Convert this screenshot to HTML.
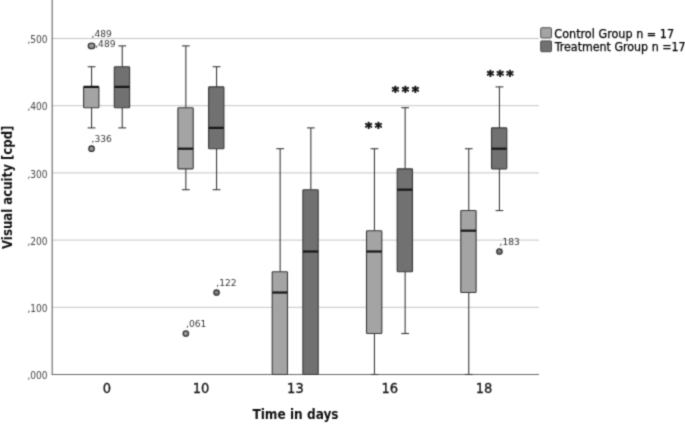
<!DOCTYPE html>
<html><head><meta charset="utf-8"><title>Visual acuity boxplot</title>
<style>html,body{margin:0;padding:0;background:#fff}body{width:685px;height:424px;overflow:hidden}</style></head>
<body>
<svg width="685" height="424" viewBox="0 0 685 424" style="display:block;font-family:'DejaVu Sans Condensed','DejaVu Sans','Liberation Sans',sans-serif">
<defs><filter id="soft" color-interpolation-filters="sRGB" filterUnits="userSpaceOnUse" x="-10" y="-10" width="705" height="444"><feConvolveMatrix order="3" kernelMatrix="0.0289 0.1122 0.0289 0.1122 0.4356 0.1122 0.0289 0.1122 0.0289" divisor="1" edgeMode="duplicate" preserveAlpha="true"/></filter></defs>
<rect width="685" height="424" fill="#fff"/>
<g filter="url(#soft)">
<rect x="-10" y="-10" width="705" height="444" fill="#fff"/>
<line x1="52" x2="539" y1="307.30" y2="307.30" stroke="#c6c6c6" stroke-width="1"/>
<line x1="52" x2="539" y1="240.10" y2="240.10" stroke="#c6c6c6" stroke-width="1"/>
<line x1="52" x2="539" y1="172.90" y2="172.90" stroke="#c6c6c6" stroke-width="1"/>
<line x1="52" x2="539" y1="105.70" y2="105.70" stroke="#c6c6c6" stroke-width="1"/>
<line x1="52" x2="539" y1="38.50" y2="38.50" stroke="#c6c6c6" stroke-width="1"/>
<line x1="52.2" x2="52.2" y1="-5" y2="375.1" stroke="#6c6c6c" stroke-width="1.15"/>
<line x1="51.8" x2="539" y1="374.5" y2="374.5" stroke="#6c6c6c" stroke-width="1.15"/>
<line x1="91.55" x2="91.55" y1="66.72" y2="86.88" stroke="#3a3a3a" stroke-width="1.1"/>
<line x1="87.65" x2="95.45" y1="66.72" y2="66.72" stroke="#3a3a3a" stroke-width="1.1"/>
<line x1="91.55" x2="91.55" y1="127.88" y2="107.72" stroke="#3a3a3a" stroke-width="1.1"/>
<line x1="87.65" x2="95.45" y1="127.88" y2="127.88" stroke="#3a3a3a" stroke-width="1.1"/>
<rect x="83.60" y="86.88" width="15.3" height="20.83" rx="0.8" fill="#a4a4a4" stroke="#383838" stroke-width="1.1"/>
<line x1="83.60" x2="98.90" y1="86.88" y2="86.88" stroke="#161616" stroke-width="2.2"/>
<ellipse cx="91.55" cy="45.89" rx="3.3" ry="2.75" fill="#9a9a9a" stroke="#333" stroke-width="1.3"/>
<circle cx="91.55" cy="148.71" r="2.7" fill="#9a9a9a" stroke="#333" stroke-width="1.3"/>
<line x1="122.25" x2="122.25" y1="45.89" y2="66.72" stroke="#3a3a3a" stroke-width="1.1"/>
<line x1="118.35" x2="126.15" y1="45.89" y2="45.89" stroke="#3a3a3a" stroke-width="1.1"/>
<line x1="122.25" x2="122.25" y1="127.88" y2="107.72" stroke="#3a3a3a" stroke-width="1.1"/>
<line x1="118.35" x2="126.15" y1="127.88" y2="127.88" stroke="#3a3a3a" stroke-width="1.1"/>
<rect x="114.30" y="66.72" width="15.3" height="40.99" rx="0.8" fill="#717171" stroke="#383838" stroke-width="1.1"/>
<line x1="114.30" x2="129.60" y1="86.88" y2="86.88" stroke="#161616" stroke-width="2.2"/>
<line x1="185.85" x2="185.85" y1="45.89" y2="107.72" stroke="#3a3a3a" stroke-width="1.1"/>
<line x1="181.95" x2="189.75" y1="45.89" y2="45.89" stroke="#3a3a3a" stroke-width="1.1"/>
<line x1="185.85" x2="185.85" y1="189.70" y2="168.87" stroke="#3a3a3a" stroke-width="1.1"/>
<line x1="181.95" x2="189.75" y1="189.70" y2="189.70" stroke="#3a3a3a" stroke-width="1.1"/>
<rect x="177.90" y="107.72" width="15.3" height="61.15" rx="0.8" fill="#a4a4a4" stroke="#383838" stroke-width="1.1"/>
<line x1="177.90" x2="193.20" y1="148.71" y2="148.71" stroke="#161616" stroke-width="2.2"/>
<circle cx="185.85" cy="333.51" r="2.7" fill="#9a9a9a" stroke="#333" stroke-width="1.3"/>
<line x1="216.55" x2="216.55" y1="66.72" y2="86.88" stroke="#3a3a3a" stroke-width="1.1"/>
<line x1="212.65" x2="220.45" y1="66.72" y2="66.72" stroke="#3a3a3a" stroke-width="1.1"/>
<line x1="216.55" x2="216.55" y1="189.70" y2="148.71" stroke="#3a3a3a" stroke-width="1.1"/>
<line x1="212.65" x2="220.45" y1="189.70" y2="189.70" stroke="#3a3a3a" stroke-width="1.1"/>
<rect x="208.60" y="86.88" width="15.3" height="61.82" rx="0.8" fill="#717171" stroke="#383838" stroke-width="1.1"/>
<line x1="208.60" x2="223.90" y1="127.88" y2="127.88" stroke="#161616" stroke-width="2.2"/>
<circle cx="216.55" cy="292.52" r="2.7" fill="#808080" stroke="#333" stroke-width="1.3"/>
<line x1="280.15" x2="280.15" y1="148.71" y2="271.68" stroke="#3a3a3a" stroke-width="1.1"/>
<line x1="276.25" x2="284.05" y1="148.71" y2="148.71" stroke="#3a3a3a" stroke-width="1.1"/>
<rect x="272.20" y="271.68" width="15.3" height="102.82" rx="0.8" fill="#a4a4a4" stroke="#383838" stroke-width="1.1"/>
<line x1="272.20" x2="287.50" y1="292.52" y2="292.52" stroke="#161616" stroke-width="2.2"/>
<line x1="310.85" x2="310.85" y1="127.88" y2="189.70" stroke="#3a3a3a" stroke-width="1.1"/>
<line x1="306.95" x2="314.75" y1="127.88" y2="127.88" stroke="#3a3a3a" stroke-width="1.1"/>
<rect x="302.90" y="189.70" width="15.3" height="184.80" rx="0.8" fill="#717171" stroke="#383838" stroke-width="1.1"/>
<line x1="302.90" x2="318.20" y1="251.52" y2="251.52" stroke="#161616" stroke-width="2.2"/>
<line x1="374.45" x2="374.45" y1="148.71" y2="230.69" stroke="#3a3a3a" stroke-width="1.1"/>
<line x1="370.55" x2="378.35" y1="148.71" y2="148.71" stroke="#3a3a3a" stroke-width="1.1"/>
<line x1="374.45" x2="374.45" y1="374.50" y2="333.51" stroke="#3a3a3a" stroke-width="1.1"/>
<line x1="370.55" x2="378.35" y1="374.50" y2="374.50" stroke="#3a3a3a" stroke-width="1.1"/>
<rect x="366.50" y="230.69" width="15.3" height="102.82" rx="0.8" fill="#a4a4a4" stroke="#383838" stroke-width="1.1"/>
<line x1="366.50" x2="381.80" y1="251.52" y2="251.52" stroke="#161616" stroke-width="2.2"/>
<line x1="405.15" x2="405.15" y1="107.72" y2="168.87" stroke="#3a3a3a" stroke-width="1.1"/>
<line x1="401.25" x2="409.05" y1="107.72" y2="107.72" stroke="#3a3a3a" stroke-width="1.1"/>
<line x1="405.15" x2="405.15" y1="333.51" y2="271.68" stroke="#3a3a3a" stroke-width="1.1"/>
<line x1="401.25" x2="409.05" y1="333.51" y2="333.51" stroke="#3a3a3a" stroke-width="1.1"/>
<rect x="397.20" y="168.87" width="15.3" height="102.82" rx="0.8" fill="#717171" stroke="#383838" stroke-width="1.1"/>
<line x1="397.20" x2="412.50" y1="189.70" y2="189.70" stroke="#161616" stroke-width="2.2"/>
<line x1="468.75" x2="468.75" y1="148.71" y2="210.53" stroke="#3a3a3a" stroke-width="1.1"/>
<line x1="464.85" x2="472.65" y1="148.71" y2="148.71" stroke="#3a3a3a" stroke-width="1.1"/>
<line x1="468.75" x2="468.75" y1="374.50" y2="292.52" stroke="#3a3a3a" stroke-width="1.1"/>
<line x1="464.85" x2="472.65" y1="374.50" y2="374.50" stroke="#3a3a3a" stroke-width="1.1"/>
<rect x="460.80" y="210.53" width="15.3" height="81.98" rx="0.8" fill="#a4a4a4" stroke="#383838" stroke-width="1.1"/>
<line x1="460.80" x2="476.10" y1="230.69" y2="230.69" stroke="#161616" stroke-width="2.2"/>
<line x1="499.45" x2="499.45" y1="86.88" y2="127.88" stroke="#3a3a3a" stroke-width="1.1"/>
<line x1="495.55" x2="503.35" y1="86.88" y2="86.88" stroke="#3a3a3a" stroke-width="1.1"/>
<line x1="499.45" x2="499.45" y1="210.53" y2="168.87" stroke="#3a3a3a" stroke-width="1.1"/>
<line x1="495.55" x2="503.35" y1="210.53" y2="210.53" stroke="#3a3a3a" stroke-width="1.1"/>
<rect x="491.50" y="127.88" width="15.3" height="40.99" rx="0.8" fill="#717171" stroke="#383838" stroke-width="1.1"/>
<line x1="491.50" x2="506.80" y1="148.71" y2="148.71" stroke="#161616" stroke-width="2.2"/>
<circle cx="499.45" cy="251.52" r="2.7" fill="#808080" stroke="#333" stroke-width="1.3"/>
<text x="47.6" y="379" font-size="10" fill="#444" text-anchor="end" textLength="20.1" lengthAdjust="spacingAndGlyphs">,000</text>
<text x="47.6" y="312" font-size="10" fill="#444" text-anchor="end" textLength="20.1" lengthAdjust="spacingAndGlyphs">,100</text>
<text x="47.6" y="245" font-size="10" fill="#444" text-anchor="end" textLength="20.1" lengthAdjust="spacingAndGlyphs">,200</text>
<text x="47.6" y="178" font-size="10" fill="#444" text-anchor="end" textLength="20.1" lengthAdjust="spacingAndGlyphs">,300</text>
<text x="47.6" y="110" font-size="10" fill="#444" text-anchor="end" textLength="20.1" lengthAdjust="spacingAndGlyphs">,400</text>
<text x="47.6" y="43" font-size="10" fill="#444" text-anchor="end" textLength="20.1" lengthAdjust="spacingAndGlyphs">,500</text>
<text x="106.80"  y="393.3" font-size="14.5" fill="#151515" stroke="#151515" stroke-width="0.3" text-anchor="middle">0</text>
<text x="201.10"  y="393.3" font-size="14.5" fill="#151515" stroke="#151515" stroke-width="0.3" text-anchor="middle">10</text>
<text x="295.40"  y="393.3" font-size="14.5" fill="#151515" stroke="#151515" stroke-width="0.3" text-anchor="middle">13</text>
<text x="389.70"  y="393.3" font-size="14.5" fill="#151515" stroke="#151515" stroke-width="0.3" text-anchor="middle">16</text>
<text x="484.00"  y="393.3" font-size="14.5" fill="#151515" stroke="#151515" stroke-width="0.3" text-anchor="middle">18</text>
<text x="252.4" y="419.3" font-size="13.5" font-weight="bold" fill="#111" textLength="86.2" lengthAdjust="spacingAndGlyphs">Time in days</text>
<text transform="translate(12.1,249) rotate(-90)" font-size="13.3" font-weight="bold" fill="#111" textLength="123.5" lengthAdjust="spacingAndGlyphs">Visual acuity [cpd]</text>
<rect x="540.7" y="27.7" width="10.8" height="10.3" rx="1" fill="#a4a4a4" stroke="#555" stroke-width="1"/>
<rect x="540.7" y="40.9" width="10.8" height="10.8" rx="1" fill="#717171" stroke="#4a4a4a" stroke-width="1"/>
<text x="554.3" y="37.5" font-size="13.1" fill="#000" stroke="#000" stroke-width="0.25" textLength="119.8" lengthAdjust="spacingAndGlyphs">Control Group n = 17</text>
<text x="554.8" y="51.2" font-size="12.8" fill="#000" stroke="#000" stroke-width="0.25" textLength="130.8" lengthAdjust="spacingAndGlyphs">Treatment Group n =17</text>
<text x="91.5" y="37.4" font-size="9.1" fill="#383838" font-family="DejaVu Sans,sans-serif" textLength="20.3" lengthAdjust="spacingAndGlyphs">,489</text>
<text x="95.2" y="47.3" font-size="9.1" fill="#383838" font-family="DejaVu Sans,sans-serif" textLength="20.3" lengthAdjust="spacingAndGlyphs">,489</text>
<text x="91.5" y="141.5" font-size="9.1" fill="#383838" font-family="DejaVu Sans,sans-serif" textLength="20.3" lengthAdjust="spacingAndGlyphs">,336</text>
<text x="186" y="327.2" font-size="9.1" fill="#383838" font-family="DejaVu Sans,sans-serif" textLength="20.3" lengthAdjust="spacingAndGlyphs">,061</text>
<text x="216.3" y="286.3" font-size="9.1" fill="#383838" font-family="DejaVu Sans,sans-serif" textLength="20.3" lengthAdjust="spacingAndGlyphs">,122</text>
<text x="499.6" y="245" font-size="9.1" fill="#383838" font-family="DejaVu Sans,sans-serif" textLength="20.3" lengthAdjust="spacingAndGlyphs">,183</text>
<text x="486.63 496.43 506.23" y="80" font-size="14" font-weight="bold" fill="#111" stroke="#111" stroke-width="0.7" stroke-linejoin="round" font-family="DejaVu Sans,sans-serif">***</text>
<text x="391.83 401.73 411.63" y="96" font-size="14" font-weight="bold" fill="#111" stroke="#111" stroke-width="0.7" stroke-linejoin="round" font-family="DejaVu Sans,sans-serif">***</text>
<text x="364.98 374.83" y="132" font-size="14" font-weight="bold" fill="#111" stroke="#111" stroke-width="0.7" stroke-linejoin="round" font-family="DejaVu Sans,sans-serif">**</text>
</g>
</svg>
</body></html>
